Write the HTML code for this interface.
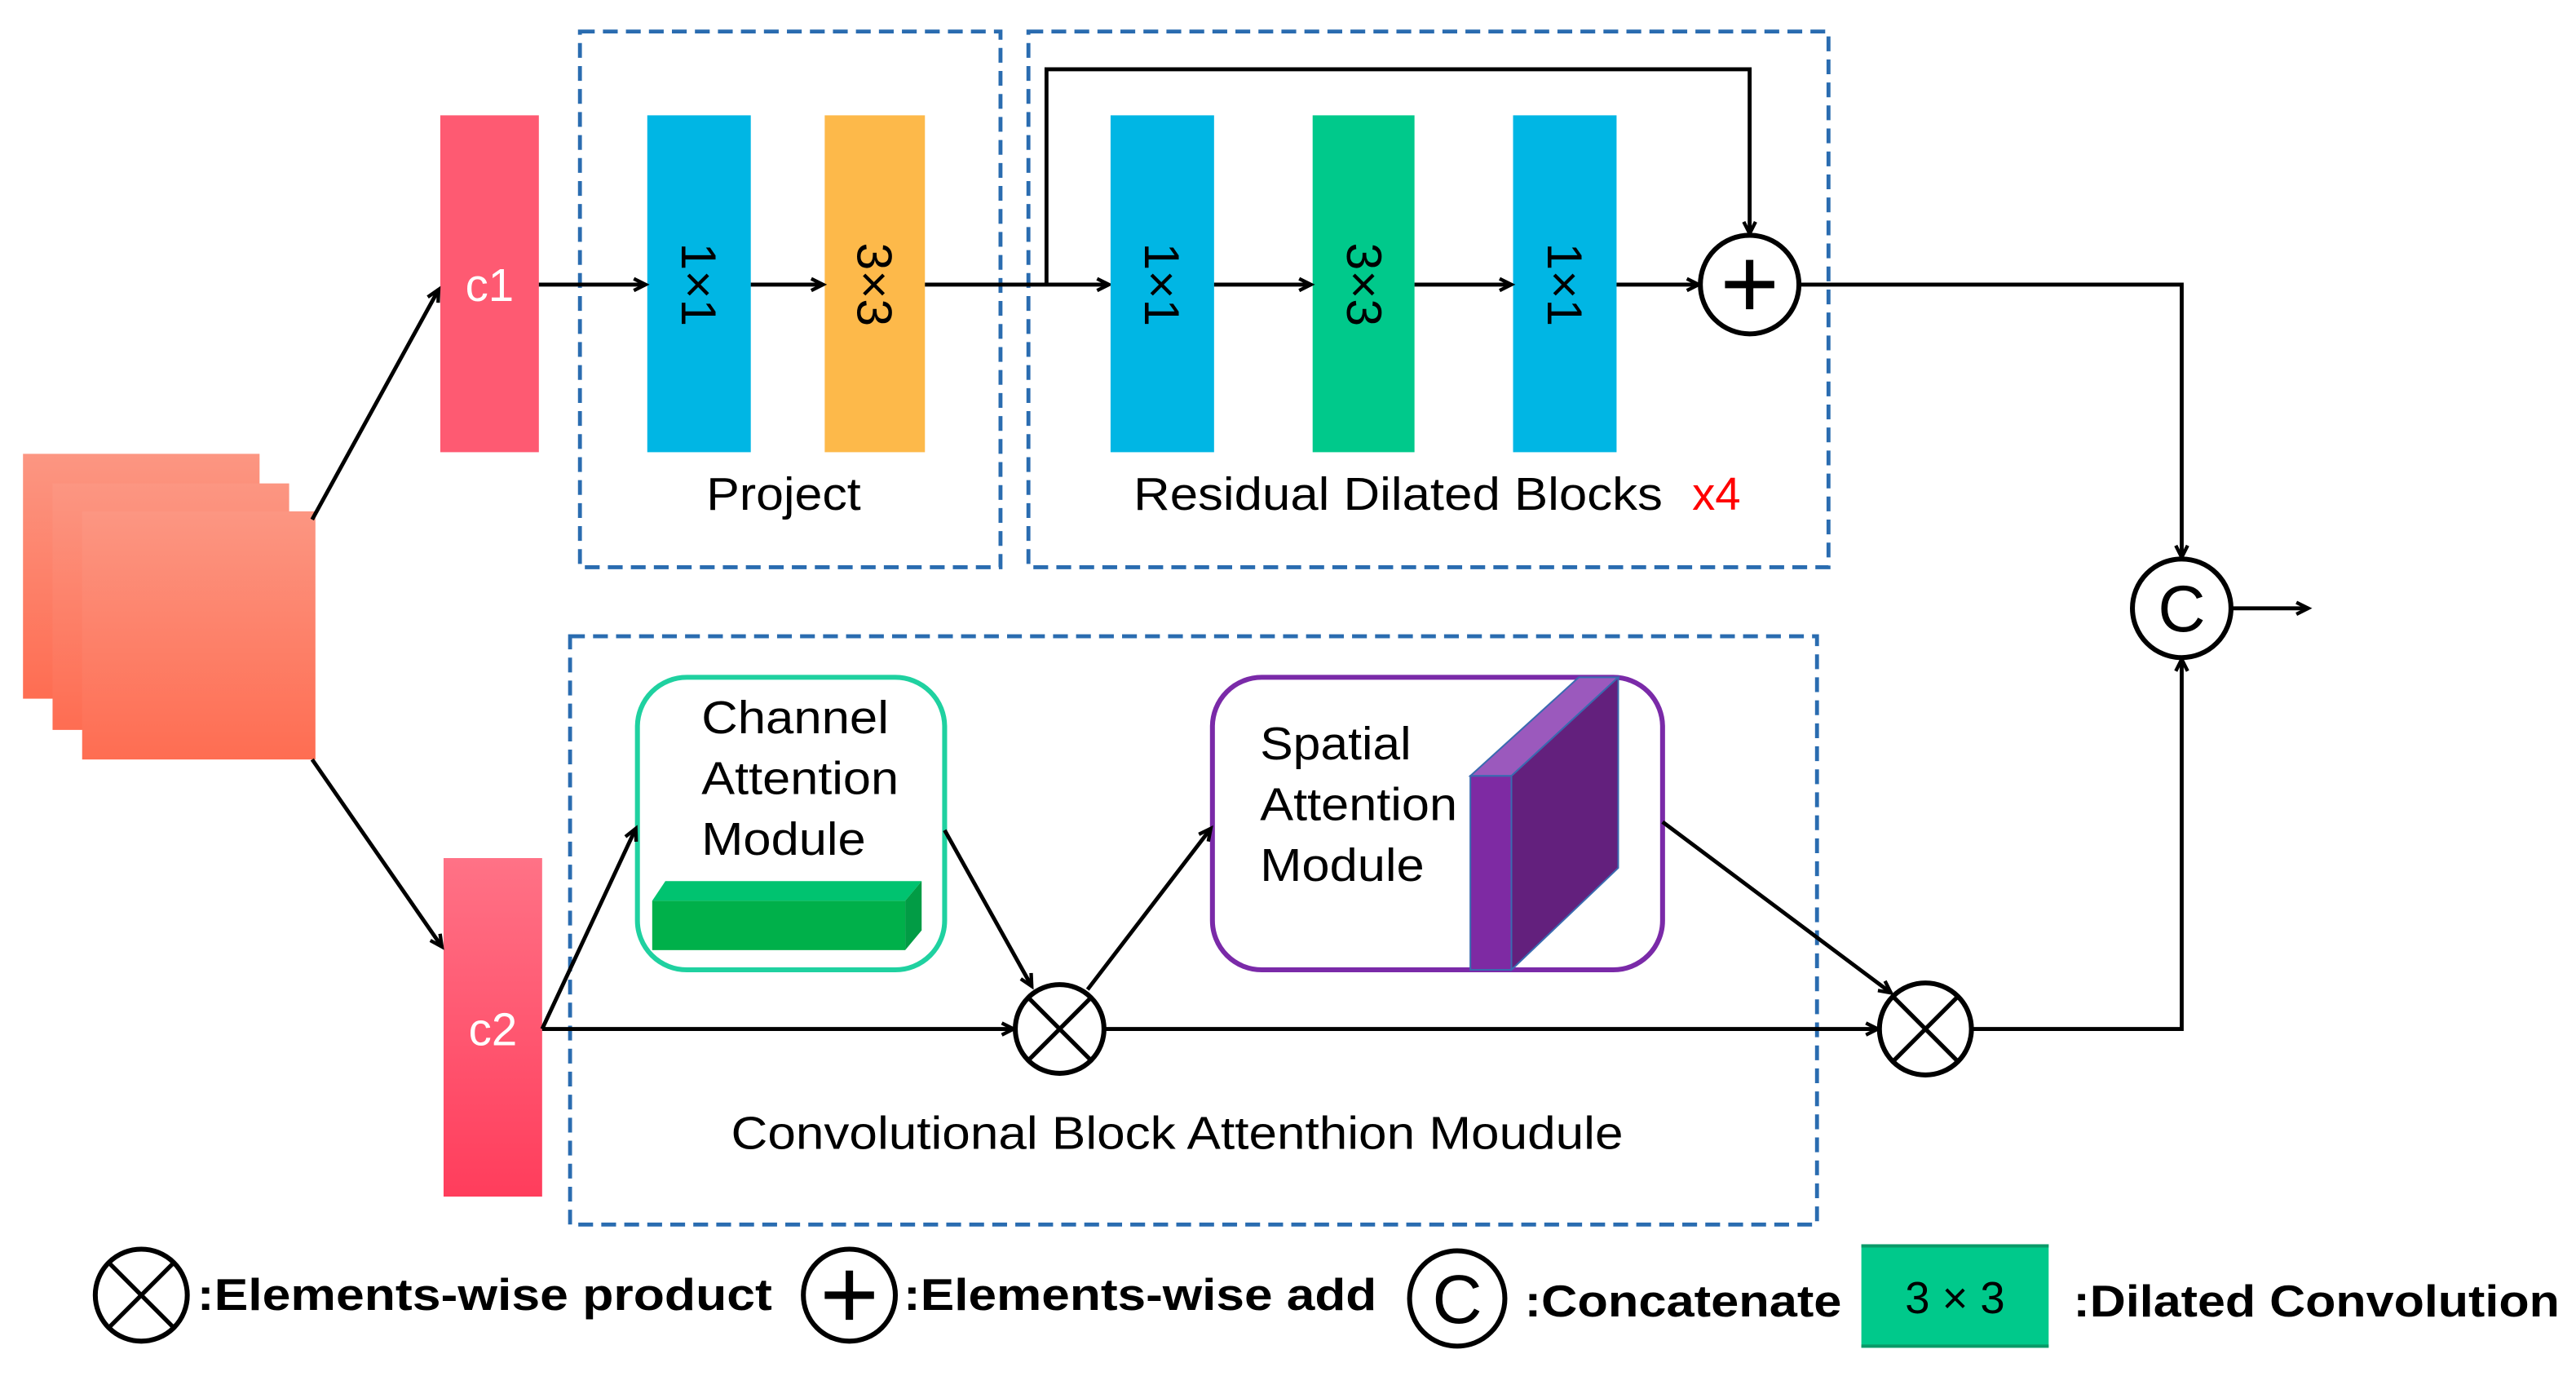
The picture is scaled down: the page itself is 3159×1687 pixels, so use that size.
<!DOCTYPE html>
<html><head><meta charset="utf-8"><style>html,body{margin:0;padding:0;background:#fff}svg{display:block}</style></head>
<body>
<svg width="3159" height="1687" viewBox="0 0 1568 837" xmlns="http://www.w3.org/2000/svg" font-family="Liberation Sans, Arial, sans-serif">
<defs>
<linearGradient id="sq" x1="0" y1="0" x2="0" y2="1"><stop offset="0" stop-color="#fc9682"/><stop offset="1" stop-color="#fe6d52"/></linearGradient>
<linearGradient id="c2g" x1="0" y1="0" x2="0" y2="1"><stop offset="0" stop-color="#ff7286"/><stop offset="1" stop-color="#ff3d5c"/></linearGradient>
<marker id="ar" viewBox="0 0 10 10" refX="9" refY="5" markerWidth="9" markerHeight="9" orient="auto-start-reverse" markerUnits="userSpaceOnUse" style="overflow:visible"><path d="M1,1 L9,5 L1,9" fill="none" stroke="#000" stroke-width="2.4"/></marker>
</defs>
<style>
.ln{stroke:#000;stroke-width:2.4;fill:none}
.a{marker-end:url(#ar)}
.dash{stroke:#2a6cb0;stroke-width:2.4;fill:none;stroke-dasharray:9 5}
.t{font-size:28px;fill:#000}
.lg{font-size:27px;font-weight:bold;fill:#000}
</style>
<rect x="14" y="276" width="144" height="149" fill="url(#sq)"/>
<rect x="32" y="294" width="144" height="150" fill="url(#sq)"/>
<rect x="50" y="311" width="142" height="151" fill="url(#sq)"/>
<rect x="268" y="70" width="60" height="205" fill="#fe5a72"/>
<text x="298" y="183" text-anchor="middle" font-size="28" fill="#fff">c1</text>
<rect x="270" y="522" width="60" height="206" fill="url(#c2g)"/>
<text x="300" y="636" text-anchor="middle" font-size="28" fill="#fff">c2</text>
<line class="ln a" x1="190" y1="316" x2="267" y2="176"/>
<line class="ln a" x1="190" y1="462" x2="269" y2="576"/>
<rect class="dash" x="353" y="19" width="256" height="326"/>
<rect class="dash" x="626" y="19" width="487" height="326"/>
<rect class="dash" x="347" y="387" width="759" height="358"/>
<rect x="394" y="70" width="63" height="205" fill="#00b6e4"/>
<rect x="502" y="70" width="61" height="205" fill="#fdb94a"/>
<text transform="translate(425,173) rotate(90)" text-anchor="middle" dy="10" font-size="30">1×1</text>
<text transform="translate(532,173) rotate(90)" text-anchor="middle" dy="10" font-size="30">3×3</text>
<line class="ln a" x1="328" y1="173" x2="393" y2="173"/>
<line class="ln a" x1="457" y1="173" x2="501" y2="173"/>
<line class="ln a" x1="563" y1="173" x2="675" y2="173"/>
<text x="430" y="310" class="t" textLength="94" lengthAdjust="spacingAndGlyphs">Project</text>
<rect x="676" y="70" width="63" height="205" fill="#00b6e4"/>
<rect x="799" y="70" width="62" height="205" fill="#00c98b"/>
<rect x="921" y="70" width="63" height="205" fill="#00b6e4"/>
<text transform="translate(707,173) rotate(90)" text-anchor="middle" dy="10" font-size="30">1×1</text>
<text transform="translate(830,173) rotate(90)" text-anchor="middle" dy="10" font-size="30">3×3</text>
<text transform="translate(952,173) rotate(90)" text-anchor="middle" dy="10" font-size="30">1×1</text>
<line class="ln a" x1="739" y1="173" x2="798" y2="173"/>
<line class="ln a" x1="861" y1="173" x2="920" y2="173"/>
<line class="ln a" x1="984" y1="173" x2="1034" y2="173"/>
<polyline class="ln a" points="637,173 637,42 1065,42 1065,142"/>
<circle cx="1065" cy="173" r="30" fill="#fff" stroke="#000" stroke-width="3"/>
<path d="M1050,173 H1080 M1065,158 V188" stroke="#000" stroke-width="4.5"/>
<text x="690" y="310" class="t" textLength="322" lengthAdjust="spacingAndGlyphs">Residual Dilated Blocks</text>
<text x="1030" y="310" font-size="28" fill="#f00">x4</text>
<polyline class="ln a" points="1095,173 1328,173 1328,339"/>
<circle cx="1328" cy="370" r="30" fill="#fff" stroke="#000" stroke-width="3"/>
<text x="1328" y="384" text-anchor="middle" font-size="40" fill="#000">C</text>
<line class="ln a" x1="1358" y1="370" x2="1405" y2="370"/>
<polyline class="ln a" points="1200,626 1328,626 1328,401"/>
<rect x="388" y="412" width="187" height="178" rx="30" fill="#fff" stroke="#1fd1a0" stroke-width="3"/>
<text x="427" y="446" class="t" textLength="114" lengthAdjust="spacingAndGlyphs">Channel</text>
<text x="427" y="483" class="t" textLength="120" lengthAdjust="spacingAndGlyphs">Attention</text>
<text x="427" y="520" class="t" textLength="100" lengthAdjust="spacingAndGlyphs">Module</text>
<polygon points="397,548 405,536 561,536 551,548" fill="#00c370"/>
<polygon points="551,548 561,536 561,566 551,578" fill="#029c45"/>
<rect x="397" y="548" width="154" height="30" fill="#00b04a"/>
<rect x="738" y="412" width="274" height="178" rx="30" fill="#fff" stroke="#7a2aa8" stroke-width="3"/>
<text x="767" y="462" class="t" textLength="92" lengthAdjust="spacingAndGlyphs">Spatial</text>
<text x="767" y="499" class="t" textLength="120" lengthAdjust="spacingAndGlyphs">Attention</text>
<text x="767" y="536" class="t" textLength="100" lengthAdjust="spacingAndGlyphs">Module</text>
<polygon points="895,472 961,412 985,412 920,472" fill="#9b59bd" stroke="#3a6ab0" stroke-width="1"/>
<polygon points="920,472 985,412 985,528 920,590" fill="#63207d" stroke="#3a6ab0" stroke-width="1"/>
<rect x="895" y="472" width="25" height="118" fill="#7e2aa3" stroke="#3a6ab0" stroke-width="1"/>
<line class="ln a" x1="330" y1="626" x2="617" y2="626"/>
<line class="ln a" x1="330" y1="626" x2="387" y2="504"/>
<line class="ln a" x1="575" y1="505" x2="628" y2="600"/>
<line class="ln a" x1="662" y1="602" x2="737" y2="504"/>
<line class="ln a" x1="1012" y1="500" x2="1151" y2="604"/>
<line class="ln a" x1="672" y1="626" x2="1143" y2="626"/>
<circle cx="645" cy="626" r="27" fill="#fff" stroke="#000" stroke-width="3"/>
<path d="M626,607 L664,645 M664,607 L626,645" stroke="#000" stroke-width="2.6"/>
<circle cx="1172" cy="626" r="28" fill="#fff" stroke="#000" stroke-width="3"/>
<path d="M1152,606 L1192,646 M1192,606 L1152,646" stroke="#000" stroke-width="2.6"/>
<text x="445" y="699" class="t" textLength="543" lengthAdjust="spacingAndGlyphs">Convolutional Block Attenthion Moudule</text>
<circle cx="86" cy="788" r="28" fill="#fff" stroke="#000" stroke-width="3"/>
<path d="M66,768 L106,808 M106,768 L66,808" stroke="#000" stroke-width="2.6"/>
<text x="120" y="797" class="lg" textLength="350" lengthAdjust="spacingAndGlyphs">:Elements-wise product</text>
<circle cx="517" cy="788" r="28" fill="#fff" stroke="#000" stroke-width="3"/>
<path d="M502,788 H532 M517,773 V803" stroke="#000" stroke-width="4.5"/>
<text x="550" y="797" class="lg" textLength="288" lengthAdjust="spacingAndGlyphs">:Elements-wise add</text>
<circle cx="887" cy="790" r="29" fill="#fff" stroke="#000" stroke-width="3"/>
<text x="887" y="805" text-anchor="middle" font-size="42" fill="#000">C</text>
<text x="928" y="801" class="lg" textLength="193" lengthAdjust="spacingAndGlyphs">:Concatenate</text>
<rect x="1133" y="757" width="114" height="63" fill="#00c98b"/>
<line x1="1133" y1="758" x2="1247" y2="758" stroke="#0a9a68" stroke-width="2"/>
<line x1="1133" y1="819" x2="1247" y2="819" stroke="#0a9a68" stroke-width="2"/>
<text x="1190" y="799" text-anchor="middle" font-size="27" fill="#000">3 × 3</text>
<text x="1262" y="801" class="lg" textLength="296" lengthAdjust="spacingAndGlyphs">:Dilated Convolution</text>
</svg>
</body></html>
